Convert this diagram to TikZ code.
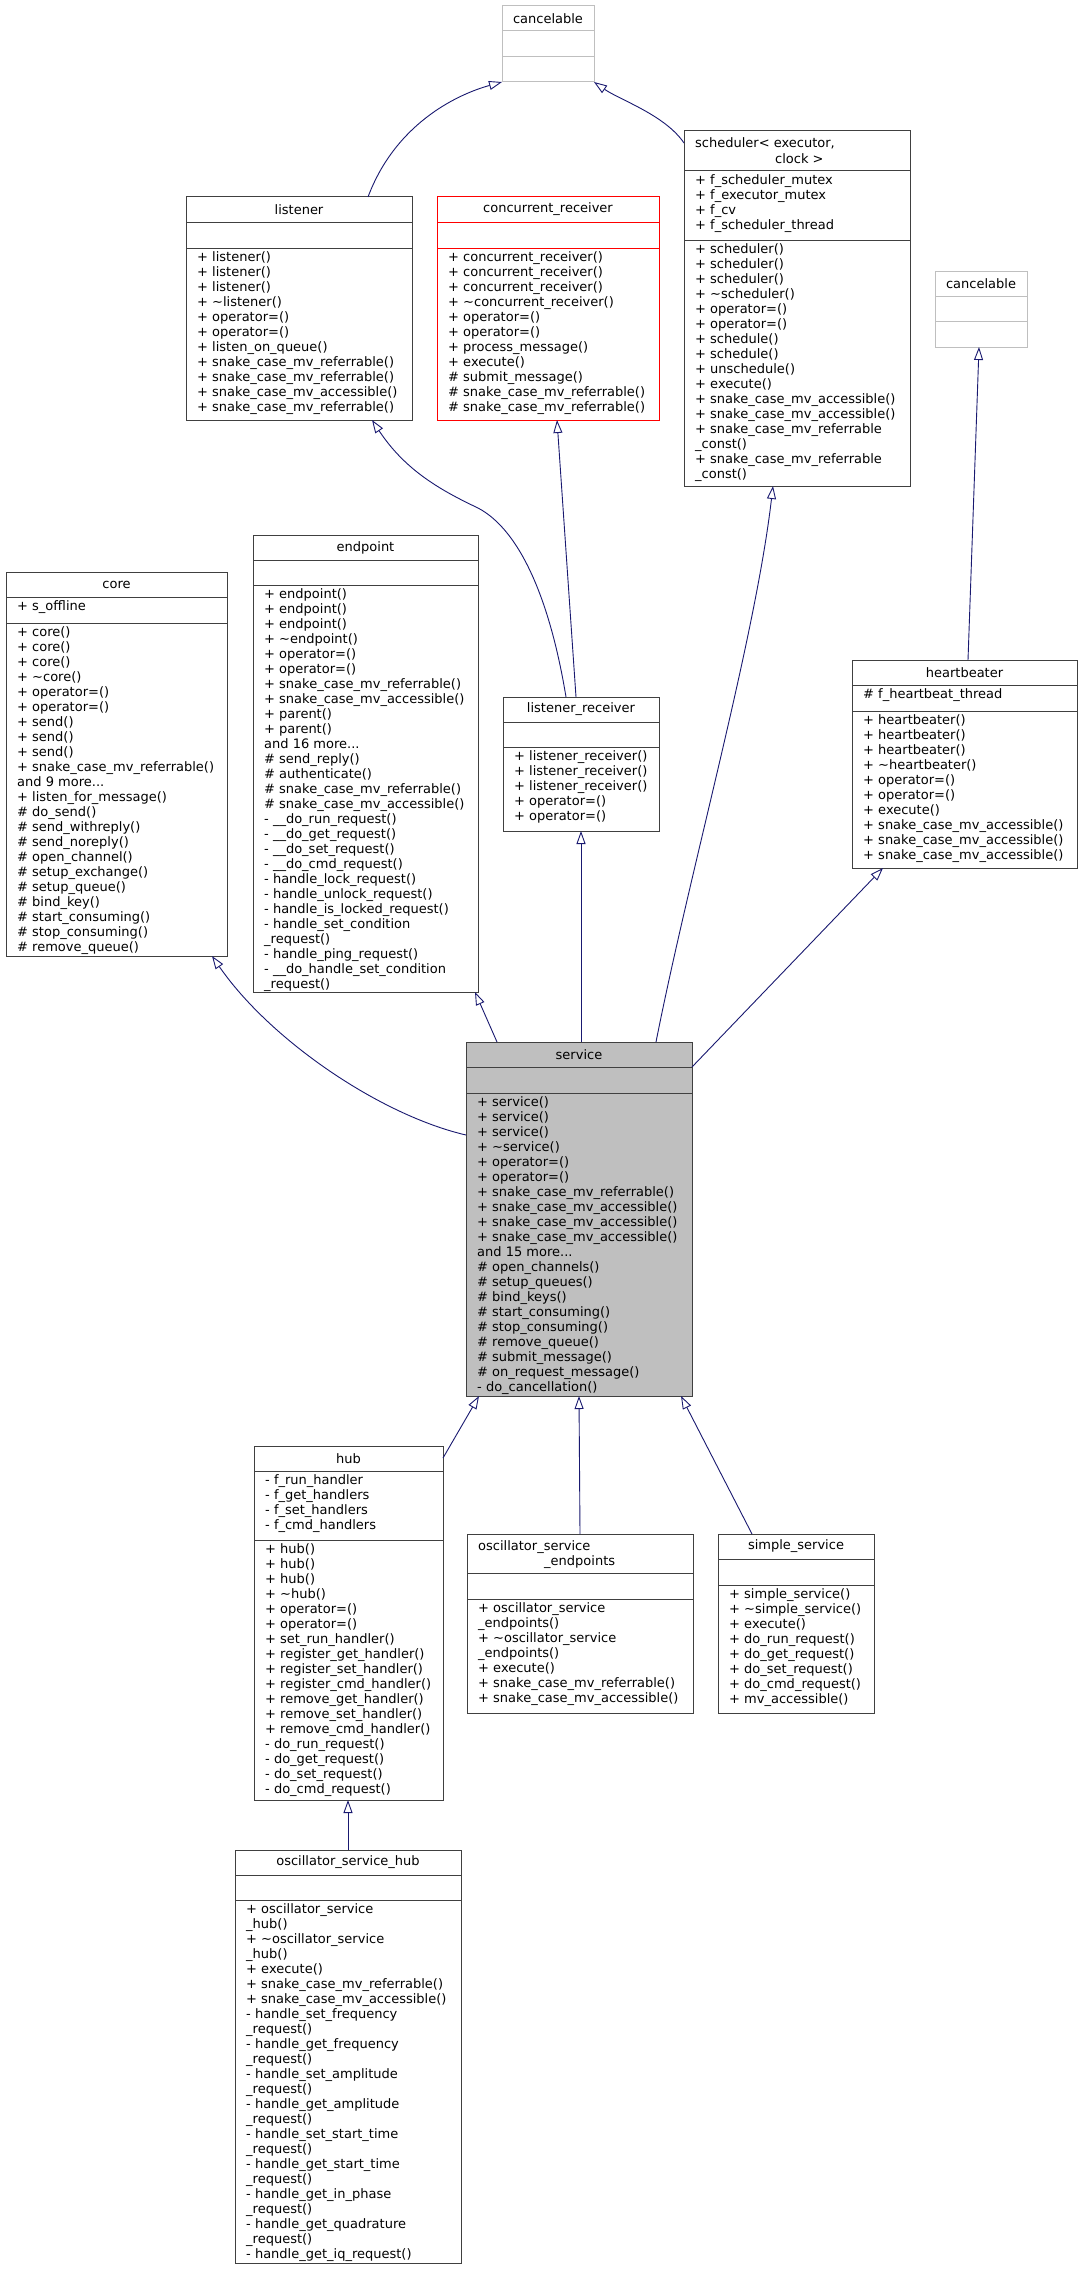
\documentclass[tikz,border=0pt]{standalone}
\usepackage{fontspec}
\usetikzlibrary{arrows.meta,calc}
\newfontfamily\djv{DejaVu Sans}
\definecolor{edgec}{HTML}{191970}
\definecolor{boxc}{HTML}{404040}
\definecolor{lightc}{HTML}{BFBFBF}
\tikzset{
  cmp/.style={draw=boxc,line width=1pt,inner sep=0pt,outer sep=0pt,anchor=north west},
  ghost/.style={draw=lightc,line width=1pt,inner sep=0pt,outer sep=0pt,anchor=north west},
  redc/.style={draw=red,line width=1pt,inner sep=0pt,outer sep=0pt,anchor=north west},
  txt/.style={inner sep=0pt,anchor=north west,align=left,font=\djv\fontsize{13}{15}\selectfont},
  htxt/.style={inner sep=0pt,font=\djv\fontsize{13}{15}\selectfont},
  inh/.style={draw=edgec,line width=0.9pt,-{Triangle[open,length=13pt,width=9pt,fill=white]}},
}
% name, x, y, w, h1, h2, h3, style, fill
\newcommand\umlbox[9]{%
  \node[#8,fill=#9,minimum width=#4pt,minimum height=#5pt] (#1-h) at (#2,#3) {};
  \node[#8,fill=#9,minimum width=#4pt,minimum height=#6pt] (#1-a) at (#1-h.south west) {};
  \node[#8,fill=#9,minimum width=#4pt,minimum height=#7pt] (#1-m) at (#1-a.south west) {};
}
\newcommand\mtext[2]{\node[txt] (#1-t) at ($(#1.north west)+(11,3)$) {\strut #2};}
\begin{document}
\begin{tikzpicture}[x=1pt,y=-1pt]
\useasboundingbox (0,0) rectangle (1078,2269);
\fill[white] (0,0) rectangle (1078,2269);
% cancelable top
\umlbox{can}{502}{6}{92}{25}{26}{25}{ghost}{white}
\node[htxt] at (can-h) {cancelable};
% listener
\umlbox{lis}{186}{197}{226}{25}{26}{172}{cmp}{white}
\node[htxt] at (lis-h) {listener};
\mtext{lis-m}{+ listener()\\+ listener()\\+ listener()\\+ \textasciitilde listener()\\+ operator=()\\+ operator=()\\+ listen\_on\_queue()\\+ snake\_case\_mv\_referrable()\\+ snake\_case\_mv\_referrable()\\+ snake\_case\_mv\_accessible()\\+ snake\_case\_mv\_referrable()}
% concurrent_receiver
\umlbox{cr}{437}{197}{222}{25}{26}{172}{redc}{white}
\node[htxt] at (cr-h) {concurrent\_receiver};
\mtext{cr-m}{+ concurrent\_receiver()\\+ concurrent\_receiver()\\+ concurrent\_receiver()\\+ \textasciitilde concurrent\_receiver()\\+ operator=()\\+ operator=()\\+ process\_message()\\+ execute()\\\# submit\_message()\\\# snake\_case\_mv\_referrable()\\\# snake\_case\_mv\_referrable()}
% scheduler
\umlbox{sch}{684}{131}{226}{40}{69}{246}{cmp}{white}
\node[htxt,anchor=base west] (sch-t1) at ($(sch-h.north west)+(11,17)$) {scheduler< executor,};
\node[htxt,anchor=base west] (sch-t2) at ($(sch-h.north west)+(91,33)$) {clock >};
\mtext{sch-a}{+ f\_scheduler\_mutex\\+ f\_executor\_mutex\\+ f\_cv\\+ f\_scheduler\_thread}
\mtext{sch-m}{+ scheduler()\\+ scheduler()\\+ scheduler()\\+ \textasciitilde scheduler()\\+ operator=()\\+ operator=()\\+ schedule()\\+ schedule()\\+ unschedule()\\+ execute()\\+ snake\_case\_mv\_accessible()\\+ snake\_case\_mv\_accessible()\\+ snake\_case\_mv\_referrable\\\_const()\\+ snake\_case\_mv\_referrable\\\_const()}
% cancelable right
\umlbox{can2}{935}{271}{92}{25}{25}{26}{ghost}{white}
\node[htxt] at (can2-h) {cancelable};
% core
\umlbox{core}{6}{572}{221}{25}{26}{333}{cmp}{white}
\node[htxt] at (core-h) {core};
\mtext{core-a}{+ s\_offline}
\mtext{core-m}{+ core()\\+ core()\\+ core()\\+ \textasciitilde core()\\+ operator=()\\+ operator=()\\+ send()\\+ send()\\+ send()\\+ snake\_case\_mv\_referrable()\\and 9 more...\\+ listen\_for\_message()\\\# do\_send()\\\# send\_withreply()\\\# send\_noreply()\\\# open\_channel()\\\# setup\_exchange()\\\# setup\_queue()\\\# bind\_key()\\\# start\_consuming()\\\# stop\_consuming()\\\# remove\_queue()}
% endpoint
\umlbox{ep}{253}{535}{225}{25}{25}{407}{cmp}{white}
\node[htxt] at (ep-h) {endpoint};
\mtext{ep-m}{+ endpoint()\\+ endpoint()\\+ endpoint()\\+ \textasciitilde endpoint()\\+ operator=()\\+ operator=()\\+ snake\_case\_mv\_referrable()\\+ snake\_case\_mv\_accessible()\\+ parent()\\+ parent()\\and 16 more...\\\# send\_reply()\\\# authenticate()\\\# snake\_case\_mv\_referrable()\\\# snake\_case\_mv\_accessible()\\- \_\_do\_run\_request()\\- \_\_do\_get\_request()\\- \_\_do\_set\_request()\\- \_\_do\_cmd\_request()\\- handle\_lock\_request()\\- handle\_unlock\_request()\\- handle\_is\_locked\_request()\\- handle\_set\_condition\\\_request()\\- handle\_ping\_request()\\- \_\_do\_handle\_set\_condition\\\_request()}
% listener_receiver
\umlbox{lr}{503}{697}{156}{25}{25}{84}{cmp}{white}
\node[htxt] at (lr-h) {listener\_receiver};
\mtext{lr-m}{+ listener\_receiver()\\+ listener\_receiver()\\+ listener\_receiver()\\+ operator=()\\+ operator=()}
% heartbeater
\umlbox{hb}{852}{660}{225}{25}{26}{157}{cmp}{white}
\node[htxt] at (hb-h) {heartbeater};
\mtext{hb-a}{\# f\_heartbeat\_thread}
\mtext{hb-m}{+ heartbeater()\\+ heartbeater()\\+ heartbeater()\\+ \textasciitilde heartbeater()\\+ operator=()\\+ operator=()\\+ execute()\\+ snake\_case\_mv\_accessible()\\+ snake\_case\_mv\_accessible()\\+ snake\_case\_mv\_accessible()}
% service
\umlbox{svc}{466}{1042}{226}{25}{26}{303}{cmp}{lightc}
\node[htxt] at (svc-h) {service};
\mtext{svc-m}{+ service()\\+ service()\\+ service()\\+ \textasciitilde service()\\+ operator=()\\+ operator=()\\+ snake\_case\_mv\_referrable()\\+ snake\_case\_mv\_accessible()\\+ snake\_case\_mv\_accessible()\\+ snake\_case\_mv\_accessible()\\and 15 more...\\\# open\_channels()\\\# setup\_queues()\\\# bind\_keys()\\\# start\_consuming()\\\# stop\_consuming()\\\# remove\_queue()\\\# submit\_message()\\\# on\_request\_message()\\- do\_cancellation()}
% hub
\umlbox{hub}{254}{1446}{189}{25}{69}{260}{cmp}{white}
\node[htxt] at (hub-h) {hub};
\mtext{hub-a}{- f\_run\_handler\\- f\_get\_handlers\\- f\_set\_handlers\\- f\_cmd\_handlers}
\mtext{hub-m}{+ hub()\\+ hub()\\+ hub()\\+ \textasciitilde hub()\\+ operator=()\\+ operator=()\\+ set\_run\_handler()\\+ register\_get\_handler()\\+ register\_set\_handler()\\+ register\_cmd\_handler()\\+ remove\_get\_handler()\\+ remove\_set\_handler()\\+ remove\_cmd\_handler()\\- do\_run\_request()\\- do\_get\_request()\\- do\_set\_request()\\- do\_cmd\_request()}
% oscillator_service_endpoints
\umlbox{ose}{467}{1534}{226}{39}{26}{114}{cmp}{white}
\node[htxt,anchor=base west] (ose-t1) at ($(ose-h.north west)+(11,16)$) {oscillator\_service};
\node[htxt,anchor=base west] (ose-t2) at ($(ose-h.north west)+(77,31)$) {\_endpoints};
\mtext{ose-m}{+ oscillator\_service\\\_endpoints()\\+ \textasciitilde oscillator\_service\\\_endpoints()\\+ execute()\\+ snake\_case\_mv\_referrable()\\+ snake\_case\_mv\_accessible()}
% simple_service
\umlbox{ss}{718}{1534}{156}{25}{26}{128}{cmp}{white}
\node[htxt] at (ss-h) {simple\_service};
\mtext{ss-m}{+ simple\_service()\\+ \textasciitilde simple\_service()\\+ execute()\\+ do\_run\_request()\\+ do\_get\_request()\\+ do\_set\_request()\\+ do\_cmd\_request()\\+ mv\_accessible()}
% oscillator_service_hub
\umlbox{osh}{235}{1850}{226}{25}{25}{363}{cmp}{white}
\node[htxt] at (osh-h) {oscillator\_service\_hub};
\mtext{osh-m}{+ oscillator\_service\\\_hub()\\+ \textasciitilde oscillator\_service\\\_hub()\\+ execute()\\+ snake\_case\_mv\_referrable()\\+ snake\_case\_mv\_accessible()\\- handle\_set\_frequency\\\_request()\\- handle\_get\_frequency\\\_request()\\- handle\_set\_amplitude\\\_request()\\- handle\_get\_amplitude\\\_request()\\- handle\_set\_start\_time\\\_request()\\- handle\_get\_start\_time\\\_request()\\- handle\_get\_in\_phase\\\_request()\\- handle\_get\_quadrature\\\_request()\\- handle\_get\_iq\_request()}
% edges
\draw[inh] ($(lis-h.north west)+(182,0)$) .. controls (395,125) and (455,95) .. (can-m.south west);
\draw[inh] ($(sch-h.north west)+(0,12)$) .. controls (665,115) and (620,100) .. (can-m.south east);
\draw[inh] ($(lr-h.north west)+(63,0)$) .. controls (550,600) and (520,530) .. (478,508) .. controls (440,490) and (405,470) .. ($(lis-m.south west)+(186,0)$);
\draw[inh] ($(lr-h.north west)+(73,0)$) -- ($(cr-m.south west)+(120,0)$);
\draw[inh] ($(hb-h.north west)+(116,0)$) -- ($(can2-m.south west)+(44,0)$);
\draw[inh] ($(svc-h.north west)+(190,0)$) .. controls (690,870) and (755,640) .. ($(sch-m.south west)+(89,0)$);
\draw[inh] (svc-a.north east) -- ($(hb-m.south west)+(31,0)$);
\draw[inh] ($(svc-h.north west)+(31,0)$) -- ($(ep-m.south west)+(222,0)$);
\draw[inh] ($(svc-h.north west)+(115,0)$) -- ($(lr-m.south west)+(78,0)$);
\draw[inh] ($(svc-a.north west)+(0,68)$) .. controls (380,1115) and (270,1040) .. ($(core-m.south west)+(206,0)$);
\draw[inh] ($(hub-h.north east)+(0,12)$) -- ($(svc-m.south west)+(13,0)$);
\draw[inh] (ose-h.north) -- (svc-m.south);
\draw[inh] ($(ss-h.north west)+(34,0)$) -- ($(svc-m.south west)+(215,0)$);
\draw[inh] (osh-h.north) -- ($(hub-m.south west)+(94,0)$);
\end{tikzpicture}
\end{document}
